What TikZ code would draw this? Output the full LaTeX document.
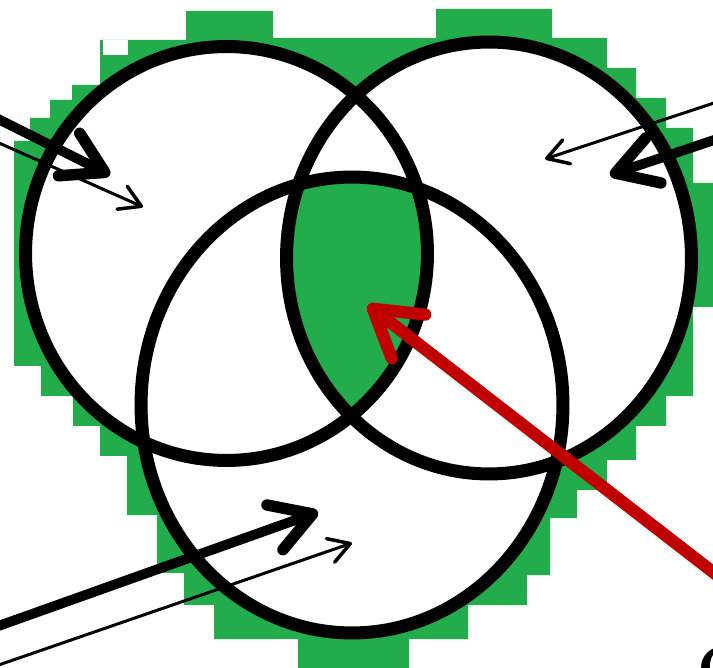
\documentclass[tikz,border=0pt]{standalone}
\usepackage{tikz}
\usetikzlibrary{arrows.meta}
\definecolor{vgreen}{RGB}{35,172,75}
\definecolor{vred}{RGB}{192,0,0}

\begin{document}
\begin{tikzpicture}[
    x=0.02cm, y=-0.02cm,
    ring/.style={draw=black, line width=7.4pt},
    bigarr/.style={line width=5.6pt, -{Straight Barb[length=0.8cm, width=0.95cm, line width=6.5pt, round]}},
    smallarr/.style={line width=1.7pt, -{Straight Barb[length=0.42cm, width=0.5cm, line width=2pt, round]}},
    redarr/.style={draw=vred, line width=7pt, -{Straight Barb[length=0.9cm, width=1.1cm, line width=7pt, round]}}
  ]
    \useasboundingbox (0,0) rectangle (713,668);
    % stepped green backdrop
    \fill[vgreen] (14,366) -- (14,141) -- (30,141) -- (30,118) -- (50,118) -- (50,100) -- (72,100) -- (72,85)
      -- (100,85) -- (100,40) -- (186,40) -- (186,11) -- (273,11) -- (273,38) -- (436,38) -- (436,9)
      -- (552,9) -- (552,38) -- (607,38) -- (607,68) -- (636,68) -- (636,98) -- (666,98) -- (666,128)
      -- (693,128) -- (693,183) -- (713,183) -- (713,307) -- (693,307) -- (693,396) -- (666,396)
      -- (666,426) -- (636,426) -- (636,460) -- (607,460) -- (607,490) -- (577,490) -- (577,518)
      -- (550,518) -- (550,575) -- (527,575) -- (527,605) -- (468,605) -- (468,639) -- (409,639)
      -- (409,668) -- (298,668) -- (298,639) -- (214,639) -- (214,605) -- (184,605) -- (184,573)
      -- (157,573) -- (157,515) -- (127,515) -- (127,456) -- (100,456) -- (100,426) -- (73,426)
      -- (73,396) -- (41,396) -- (41,366) -- cycle;
    \fill[white] (103,40) rectangle (128,55);

    \coordinate (cA) at (226.5,253.5);
    \coordinate (cB) at (489,258);
    \coordinate (cC) at (352,405);

    \fill[white] (cA) ellipse [x radius=4.02cm, y radius=4.14cm];
    \fill[white] (cB) ellipse [x radius=4.05cm, y radius=4.32cm];
    \fill[white] (cC) ellipse [x radius=4.22cm, y radius=4.56cm];
    \begin{scope}
      \clip (cA) ellipse [x radius=4.02cm, y radius=4.14cm];
      \clip (cB) ellipse [x radius=4.05cm, y radius=4.32cm];
      \fill[vgreen] (cC) ellipse [x radius=4.22cm, y radius=4.56cm];
    \end{scope}
    \draw[ring] (cA) ellipse [x radius=4.02cm, y radius=4.14cm];
    \draw[ring] (cB) ellipse [x radius=4.05cm, y radius=4.32cm];
    \draw[ring] (cC) ellipse [x radius=4.22cm, y radius=4.56cm];

    \coordinate (aThickS) at (-10,115);  \coordinate (aThickE) at (110,175);
    \coordinate (aThinS)  at (-10,139);  \coordinate (aThinE)  at (143,207);
    \coordinate (bThinS)  at (723,100);  \coordinate (bThinE)  at (545,159);
    \coordinate (bThickS) at (723,137);  \coordinate (bThickE) at (610,175);
    \coordinate (cThickS) at (-10,629);  \coordinate (cThickE) at (318,512);
    \coordinate (cThinS)  at (-10,668);  \coordinate (cThinE)  at (352,543);
    \coordinate (redS)    at (740,593);  \coordinate (redE)    at (368,305);

    \draw[bigarr] (aThickS) -- (aThickE);
    \draw[smallarr] (aThinS) -- (aThinE);
    \draw[smallarr] (bThinS) -- (bThinE);
    \draw[bigarr] (bThickS) -- (bThickE);
    \draw[bigarr] (cThickS) -- (cThickE);
    \draw[smallarr] (cThinS) -- (cThinE);
    \draw[redarr] (redS) -- (redE);

    \node[anchor=north west, inner sep=0pt, font=\fontsize{36}{36}\selectfont\bfseries] (lblC) at (697,646) {C};
\end{tikzpicture}
\end{document}
